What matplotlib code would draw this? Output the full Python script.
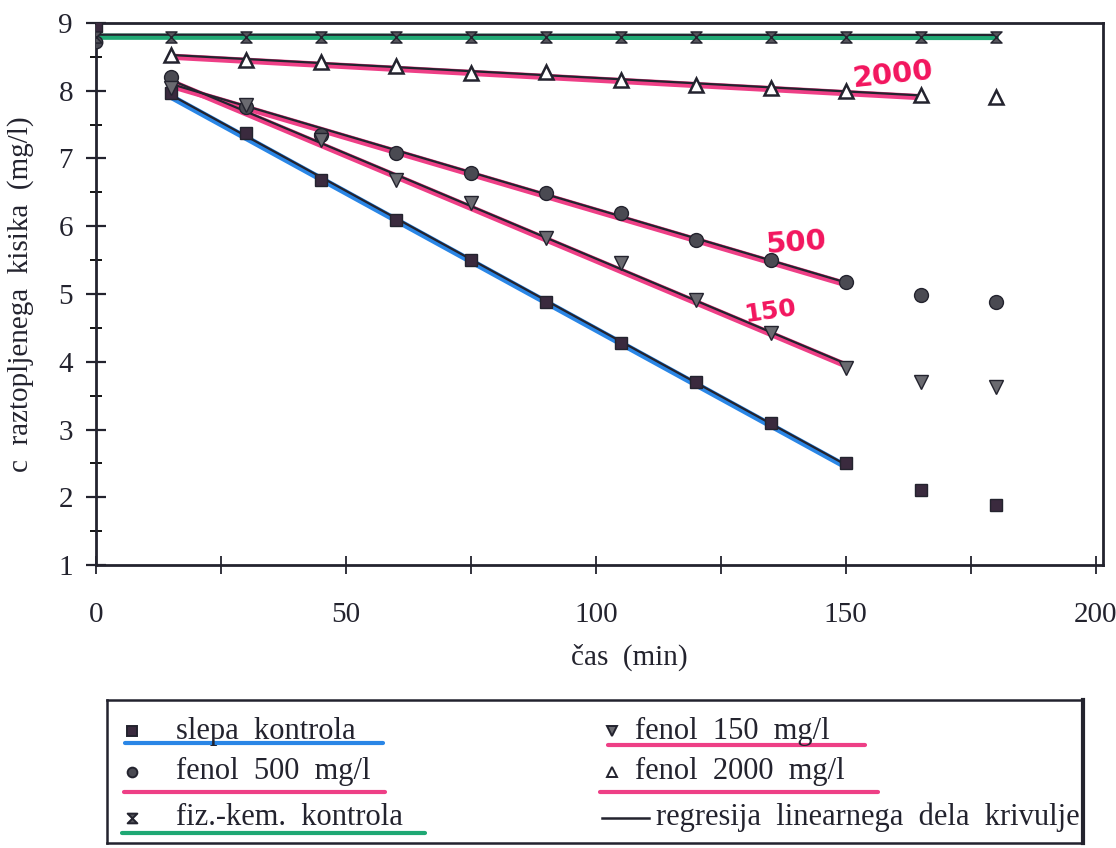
"""
Dissolved oxygen vs time for phenol concentrations (scanned chart rebuild)
"""
import numpy as np
import matplotlib.pyplot as plt
from matplotlib.path import Path

# time points (min)
cas = [15, 30, 45, 60, 75, 90, 105, 120, 135, 150, 165, 180]

slepa = [7.97, 7.38, 6.68, 6.09, 5.50, 4.88, 4.28, 3.70, 3.10, 2.51, 2.11, 1.89]
fenol_500 = [8.20, 7.76, 7.35, 7.08, 6.79, 6.49, 6.20, 5.80, 5.50, 5.18, 4.99, 4.88]
fenol_150 = [8.04, 7.79, 7.27, 6.68, 6.34, 5.83, 5.46, 4.91, 4.42, 3.91, 3.70, 3.63]
fenol_2000 = [8.53, 8.45, 8.42, 8.37, 8.26, 8.27, 8.16, 8.08, 8.04, 8.00, 7.94, 7.91]
fiz_kem = [8.80, 8.79, 8.80, 8.79, 8.80, 8.79, 8.80, 8.79, 8.80, 8.79, 8.80, 8.79]

# starting values at t = 0
cas_0 = [0, 0, 0]
start_0 = [8.95, 8.72, 8.80]

# how many points belong to the linear part of each curve
lin_slepa = 10
lin_500 = 10
lin_150 = 10
lin_2000 = 11

BLACK = "#23232e"
BLUE = "#2a86e6"
PINK = "#ee3f86"
GREEN = "#1fa874"
HAND = "#f2155e"
SERIF = "Liberation Serif"

hourglass = Path([(-1, 1), (1, 1), (-1, -1), (1, -1), (-1, 1)],
                 [Path.MOVETO, Path.LINETO, Path.LINETO, Path.LINETO, Path.CLOSEPOLY])


def regression(x, y, n):
    """fitted straight line over the first n points"""
    x = np.array(x[:n], dtype=float)
    k, b = np.polyfit(x, y[:n], 1)
    return x, k * x + b


fig = plt.figure(figsize=(11.16, 8.48), dpi=100)
ax = fig.add_axes([0.086, 0.3337, 0.902, 0.6392])

# hand highlighted regression lines, then the printed black ones
fits = [(slepa, lin_slepa, BLUE), (fenol_500, lin_500, PINK),
        (fenol_150, lin_150, PINK), (fenol_2000, lin_2000, PINK)]
for ys, n, col in fits:
    fx, fy = regression(cas, ys, n)
    ax.plot(fx, fy - 0.025, color=col, lw=4.5, solid_capstyle="round", zorder=2)
    ax.plot(fx, fy, color=BLACK, lw=1.6, zorder=3)

kx = [0] + cas
ky = [start_0[2]] + fiz_kem
fx, fy = regression(kx, ky, len(kx))
ax.plot(fx, fy, color=GREEN, lw=4.5, zorder=2)
ax.plot(fx, fy + 0.03, color=BLACK, lw=1.6, zorder=3)

ax.plot(cas, slepa, ls="none", marker="s", ms=9, mfc="#3a2a3e", mec=BLACK, zorder=4)
ax.plot(cas, fenol_500, ls="none", marker="o", ms=10, mfc="#4a4a52", mec=BLACK, zorder=4)
ax.plot(cas, fenol_150, ls="none", marker="v", ms=10, mfc="#6a6a70", mec=BLACK, zorder=4)
ax.plot(cas, fenol_2000, ls="none", marker="^", ms=10, mfc="white", mec=BLACK, mew=1.8, zorder=4)
ax.plot(cas, fiz_kem, ls="none", marker=hourglass, ms=8, mfc="#55555c", mec=BLACK, zorder=4)
ax.plot(cas_0[:1], start_0[:1], ls="none", marker="s", ms=8, mfc="#3a2a3e", mec=BLACK, zorder=4)
ax.plot(cas_0[1:2], start_0[1:2], ls="none", marker="o", ms=9, mfc="#4a4a52", mec=BLACK, zorder=4)
ax.plot(cas_0[2:], start_0[2:], ls="none", marker=hourglass, ms=8, mfc="#55555c", mec=BLACK, zorder=4)

# handwritten concentration notes
ax.text(159.4, 8.24, "2000", color=HAND, fontsize=21, fontweight="bold", rotation=6,
        ha="center", va="center", family="DejaVu Sans")
ax.text(140.2, 5.75, "500", color=HAND, fontsize=21, fontweight="bold", rotation=4,
        ha="center", va="center", family="DejaVu Sans")
ax.text(134.8, 4.75, "150", color=HAND, fontsize=18, fontweight="bold", rotation=8,
        ha="center", va="center", family="DejaVu Sans")

ax.set_xlim(0, 201.4)
ax.set_ylim(1, 9)
ax.set_xticks([0, 50, 100, 150, 200])
ax.set_xticks([25, 75, 125, 175], minor=True)
ax.set_yticks(range(1, 10))
ax.set_yticks(np.arange(1.5, 9, 1), minor=True)
ax.tick_params(axis="x", which="both", direction="inout", length=13, width=1.3,
               pad=20, labelsize=21, colors=BLACK)
ax.tick_params(axis="y", which="major", direction="inout", length=15, width=1.6,
               pad=9, labelsize=21, colors=BLACK)
ax.tick_params(axis="y", which="minor", direction="inout", length=8, width=1.3)
for lab in ax.get_xticklabels() + ax.get_yticklabels():
    lab.set_family(SERIF)
for sp in ax.spines.values():
    sp.set_linewidth(2)
    sp.set_color(BLACK)

ax.set_xlabel("čas  (min)", family=SERIF, fontsize=21, color=BLACK)
ax.xaxis.set_label_coords(0.53, -0.145)
ax.set_ylabel("c  raztopljenega  kisika  (mg/l)", family=SERIF, fontsize=21, color=BLACK)
ax.yaxis.set_label_coords(-0.062, 0.5)

# legend box drawn by hand, like the original
lax = fig.add_axes([0.096, 0.006, 0.874, 0.169])
lax.set_xlim(0, 1)
lax.set_ylim(0, 1)
lax.set_xticks([])
lax.set_yticks([])
for sp in lax.spines.values():
    sp.set_linewidth(1.8)
    sp.set_color(BLACK)
lax.spines["right"].set_linewidth(3)

entries = [
    (0.026, 0.78, "s", "#3a2a3e", "slepa  kontrola", BLUE, 0.018, 0.283, 0.695),
    (0.026, 0.496, "o", "#4a4a52", "fenol  500  mg/l", PINK, 0.017, 0.285, 0.355),
    (0.026, 0.177, hourglass, "#55555c", "fiz.-kem.  kontrola", GREEN, 0.015, 0.326, 0.07),
    (0.518, 0.78, "v", "#6a6a70", "fenol  150  mg/l", PINK, 0.513, 0.777, 0.68),
    (0.518, 0.496, "^", "white", "fenol  2000  mg/l", PINK, 0.505, 0.79, 0.355),
]
for mx, my, mk, fc, label, ucol, u0, u1, uy in entries:
    lax.plot([mx], [my], ls="none", marker=mk, ms=7, mfc=fc, mec=BLACK, mew=1.4,
             clip_on=False)
    lax.text(mx + (0.045 if mx < 0.5 else 0.023), my, label, family=SERIF,
             fontsize=22, color=BLACK, va="center", ha="left")
    lax.plot([u0, u1], [uy, uy], color=ucol, lw=3, solid_capstyle="round")

lax.plot([0.507, 0.556], [0.177, 0.177], color=BLACK, lw=1.8)
lax.text(0.563, 0.177, "regresija  linearnega  dela  krivulje", family=SERIF,
         fontsize=22, color=BLACK, va="center", ha="left", clip_on=False)

plt.savefig("out.png", dpi=100)
plt.close()
